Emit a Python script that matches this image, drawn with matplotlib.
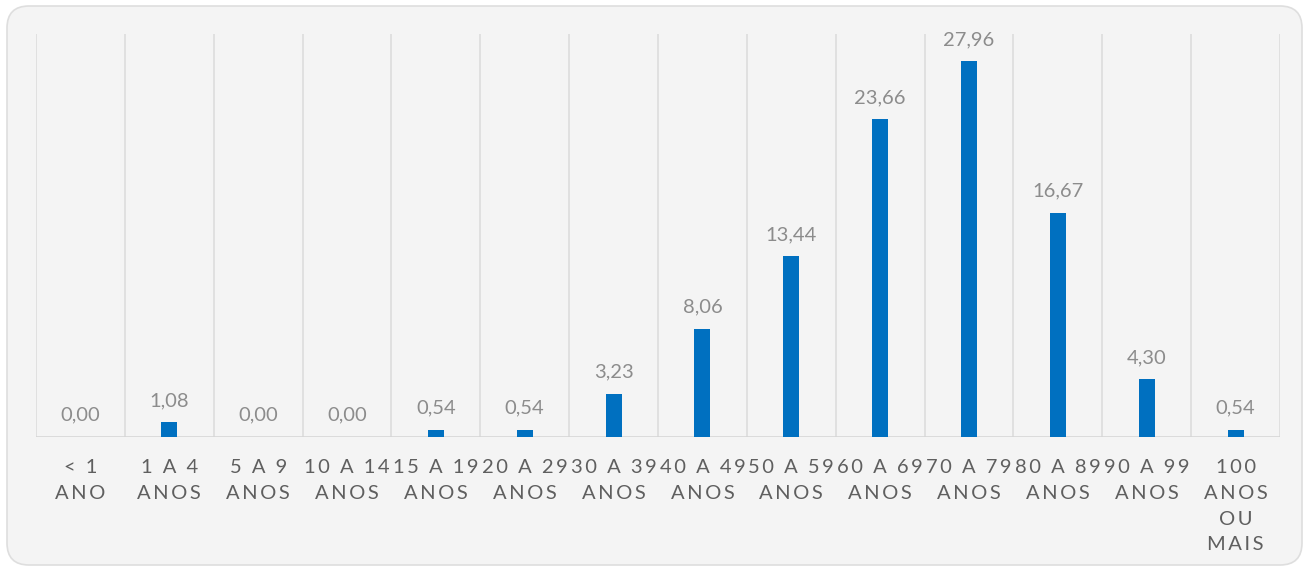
import matplotlib.pyplot as plt
from matplotlib.patches import FancyBboxPatch

plt.rcParams['font.family'] = ['Lato', 'DejaVu Sans']

# Faixa etaria e percentual de obitos
faixas = ['< 1\nANO', '1 A 4\nANOS', '5 A 9\nANOS', '10 A 14\nANOS', '15 A 19\nANOS',
          '20 A 29\nANOS', '30 A 39\nANOS', '40 A 49\nANOS', '50 A 59\nANOS',
          '60 A 69\nANOS', '70 A 79\nANOS', '80 A 89\nANOS', '90 A 99\nANOS',
          '100\nANOS\nOU\nMAIS']
valores = [0.00, 1.08, 0.00, 0.00, 0.54, 0.54, 3.23, 8.06, 13.44, 23.66, 27.96, 16.67, 4.30, 0.54]


def espacado(txt):
    # imita o espacamento entre letras do Excel
    return '\n'.join('\u2009'.join(linha) for linha in txt.split('\n'))


fig = plt.figure(figsize=(13.09, 5.70), dpi=100)
fig.patch.set_facecolor('white')

# eixo de fundo em pixels, so para a caixa arredondada
fundo = fig.add_axes([0, 0, 1, 1], zorder=0)
fundo.set_xlim(0, 1309)
fundo.set_ylim(0, 570)
fundo.axis('off')
fundo.add_patch(FancyBboxPatch((7, 5), 1295, 559,
                               boxstyle='round,pad=0,rounding_size=22',
                               facecolor='#f4f4f4', edgecolor='#dedede', linewidth=1.2))

ax = fig.add_axes([36 / 1309, 133 / 570, 1244 / 1309, 403 / 570], zorder=1)
ax.set_facecolor('none')

x = range(len(valores))
ax.bar(x, valores, width=0.18, color='#0070c0', zorder=3)

for i, v in enumerate(valores):
    ax.annotate(f'{v:.2f}'.replace('.', ','), (i, v), xytext=(0, 9.5),
                textcoords='offset points', ha='center', va='bottom',
                fontsize=14.5, color='#8c8c8c')

# linhas de grade entre as categorias
for k in range(len(valores) + 1):
    ax.plot([k - 0.5, k - 0.5], [0, 30], color='#dadada', linewidth=1.1, zorder=1)
ax.axhline(0, color='#d6d6d6', linewidth=1.2, zorder=2)

ax.set_xlim(-0.5, len(valores) - 0.5)
ax.set_ylim(0, 30)
ax.set_xticks(list(x))
ax.set_xticklabels([espacado(f) for f in faixas], fontsize=14.5, color='#5f5f5f',
                   linespacing=1.62, va='top')
ax.tick_params(axis='x', length=0, pad=16)
ax.set_yticks([])
for s in ax.spines.values():
    s.set_visible(False)

fig.savefig('out.png', dpi=100, facecolor='white')
